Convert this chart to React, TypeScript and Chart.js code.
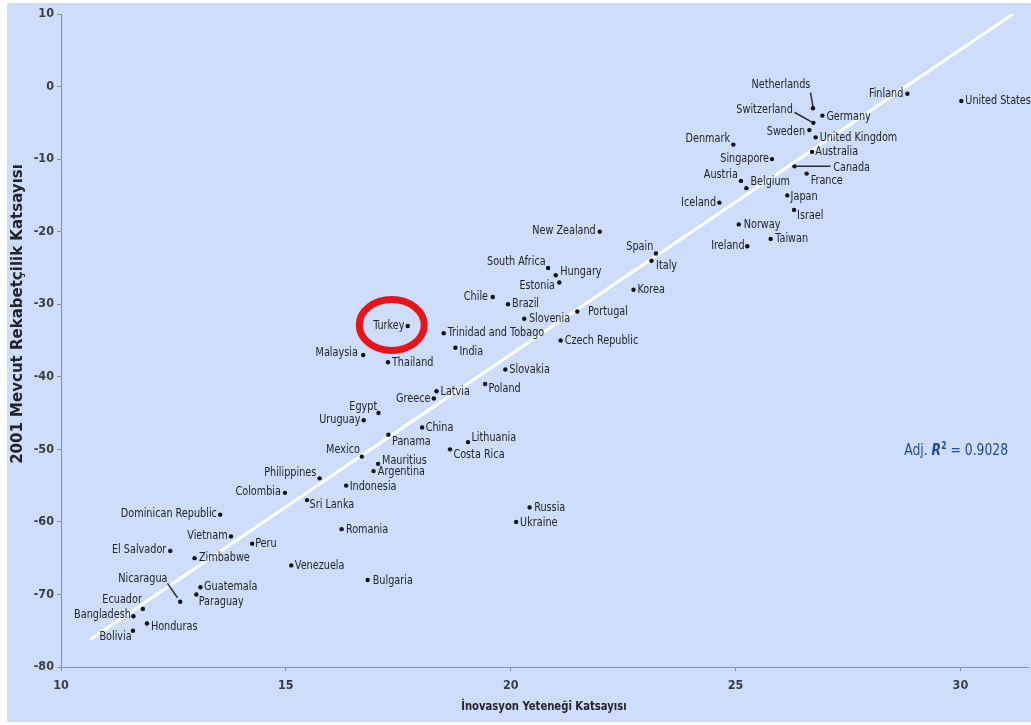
import React, { useEffect, useRef } from 'react';
import { Chart, registerables } from 'chart.js';

Chart.register(...registerables);

// ---------------- DATA ----------------
const COUNTRIES = [
  'Finland', 'United States', 'Netherlands', 'Germany', 'Switzerland', 'Sweden', 'United Kingdom',
  'Denmark', 'Australia', 'Singapore', 'Canada', 'France', 'Austria', 'Belgium', 'Japan', 'Iceland',
  'Israel', 'Norway', 'New Zealand', 'Taiwan', 'Ireland', 'Spain', 'Italy', 'South Africa', 'Hungary',
  'Estonia', 'Korea', 'Chile', 'Brazil', 'Portugal', 'Slovenia', 'Turkey', 'Trinidad and Tobago',
  'Czech Republic', 'India', 'Malaysia', 'Thailand', 'Slovakia', 'Poland', 'Latvia', 'Greece', 'Egypt',
  'Uruguay', 'China', 'Panama', 'Lithuania', 'Costa Rica', 'Mexico', 'Mauritius', 'Argentina',
  'Philippines', 'Indonesia', 'Colombia', 'Sri Lanka', 'Russia', 'Dominican Republic', 'Ukraine',
  'Romania', 'Vietnam', 'Peru', 'El Salvador', 'Zimbabwe', 'Venezuela', 'Bulgaria', 'Guatemala',
  'Paraguay', 'Nicaragua', 'Ecuador', 'Bangladesh', 'Honduras', 'Bolivia',
];

// İnovasyon Yeteneği Katsayısı (x)
const INNOVATION = [
  28.82, 30.02, 26.72, 26.93, 26.73, 26.64, 26.78,
  24.95, 26.70, 25.81, 26.31, 26.58, 25.12, 25.24, 26.15, 24.64,
  26.30, 25.07, 21.98, 25.78, 25.26, 23.23, 23.13, 20.83, 21.00,
  21.08, 22.73, 19.60, 19.94, 21.48, 20.30, 17.71, 18.51,
  21.11, 18.77, 16.72, 17.27, 19.88, 19.43, 18.35, 18.29, 17.06,
  16.73, 18.03, 17.28, 19.05, 18.65, 16.69, 17.05, 16.95,
  15.75, 16.34, 14.98, 15.47, 20.42, 13.54, 20.12,
  16.24, 13.78, 14.25, 12.43, 12.97, 15.12, 16.82, 13.10,
  13.01, 12.65, 11.82, 11.61, 11.91, 11.60,
];

// 2001 Mevcut Rekabetçilik Katsayısı (y)
const COMPETITIVENESS = [
  -1, -2, -3, -4, -5, -6, -7,
  -8, -9, -10, -11, -12, -13, -14, -15, -16,
  -17, -19, -20, -21, -22, -23, -24, -25, -26,
  -27, -28, -29, -30, -31, -32, -33, -34,
  -35, -36, -37, -38, -39, -41, -42, -43, -45,
  -46, -47, -48, -49, -50, -51, -52, -53,
  -54, -55, -56, -57, -58, -59, -60,
  -61, -62, -63, -64, -65, -66, -68, -69,
  -70, -71, -72, -73, -74, -75,
];

const FIT_X = [10.65, 31.17];
const FIT_Y = [-76.2, 10];
const R2_VALUE = '0.9028';
const R2_POS = [28.75, -50.05];

const X_TICKS = [10, 15, 20, 25, 30];
const Y_TICKS = [10, 0, -10, -20, -30, -40, -50, -60, -70, -80];
const X_TITLE = 'İnovasyon Yeteneği Katsayısı';
const Y_TITLE = '2001 Mevcut Rekabetçilik Katsayısı';
const HIGHLIGHT = 'Turkey';

// ---------------- LAYOUT / STYLE ----------------
// label placement: [side, dx, dy] in px relative to the dot
const LABEL_LAYOUT: Record<string, [string, number, number]> = {
  'Netherlands': ['c', -32, -24], 'Finland': ['l', -4, 0], 'United States': ['r', 4, 0],
  'Germany': ['r', 4, 1], 'Switzerland': ['l', -20.6, -12.6], 'Sweden': ['l', -4.3, 2],
  'United Kingdom': ['r', 4, 0], 'Denmark': ['l', -3.3, -6.3], 'Australia': ['r', 3.3, 0],
  'Singapore': ['l', -3, 0], 'Canada': ['r', 38.7, 1], 'France': ['r', 4, 7.4],
  'Austria': ['l', -3, -5.7], 'Belgium': ['r', 4, -6.6], 'Japan': ['r', 3.3, 1.6],
  'Iceland': ['l', -3.3, 0], 'Israel': ['r', 3, 5.7], 'Norway': ['r', 5, 0],
  'New Zealand': ['l', -4, -1], 'Taiwan': ['r', 4.7, 0], 'Ireland': ['l', -2.7, 0],
  'Spain': ['l', -2.7, -6.7], 'Italy': ['r', 4.6, 5.3], 'South Africa': ['l', -2.3, -6],
  'Hungary': ['r', 4.6, -3.4], 'Estonia': ['l', -4.3, 3.3], 'Korea': ['r', 4, 0],
  'Chile': ['l', -4.7, -0.6], 'Brazil': ['r', 4, 0], 'Portugal': ['r', 10.6, 0],
  'Slovenia': ['r', 4.7, 0], 'Turkey': ['l', -3.3, -0.7], 'Trinidad and Tobago': ['r', 4, 0],
  'Czech Republic': ['r', 4, 0.7], 'India': ['r', 4, 4.4], 'Malaysia': ['l', -5.4, -2],
  'Thailand': ['r', 4, 0], 'Slovakia': ['r', 4, 0], 'Poland': ['r', 3.4, 5],
  'Latvia': ['r', 4, 0], 'Greece': ['l', -3.3, 0.3], 'Egypt': ['l', -1.3, -6.7],
  'Uruguay': ['l', -3.3, -0.3], 'China': ['r', 3.6, 0], 'Panama': ['r', 3.7, 6.7],
  'Lithuania': ['r', 3.4, -4], 'Costa Rica': ['r', 3.4, 5], 'Mexico': ['l', -2, -6.7],
  'Mauritius': ['r', 4, -3.3], 'Argentina': ['r', 4.3, 0.7], 'Philippines': ['l', -3.3, -5.7],
  'Indonesia': ['r', 3.6, 1.6], 'Colombia': ['l', -4, -1.3], 'Sri Lanka': ['r', 2.6, 5],
  'Russia': ['r', 4.6, 0], 'Dominican Republic': ['l', -3.3, -0.7], 'Ukraine': ['r', 4, 0.7],
  'Romania': ['r', 4.3, 0.7], 'Vietnam': ['l', -3.4, -0.6], 'Peru': ['r', 3, 0],
  'El Salvador': ['l', -4, -0.7], 'Zimbabwe': ['r', 4.4, 0], 'Venezuela': ['r', 3.6, 0],
  'Bulgaria': ['r', 5, 1], 'Guatemala': ['r', 3.7, 0], 'Paraguay': ['r', 2.3, 7.4],
  'Nicaragua': ['l', -12.7, -23.3], 'Ecuador': ['l', -1, -9.3], 'Bangladesh': ['l', -2.6, -1],
  'Honduras': ['r', 4, 3.3], 'Bolivia': ['l', -1.3, 6.3],
};
// leader lines: [x1, y1, x2, y2] px relative to the dot
const LEADERS: Record<string, [number, number, number, number]> = {
  'Netherlands': [-2.4, -15.7, 0, -2],
  'Switzerland': [-19, -10.6, -1, -0.5],
  'Canada': [2, 0, 36, 0],
  'Nicaragua': [-12.7, -18.3, -2.7, -4],
};

const NARROW = "'Liberation Sans Narrow', 'DejaVu Sans Condensed', 'Arial Narrow', 'Roboto', sans-serif";
const SQUEEZE = 0.86;
const BG = '#cedefa';
const AXIS = '#8c929c';
const TEXT = '#222428';

function narrowText(ctx: CanvasRenderingContext2D, text: string, x: number, y: number) {
  ctx.save();
  ctx.translate(x, y);
  ctx.scale(SQUEEZE, 1);
  ctx.fillText(text, 0, 0);
  ctx.restore();
}

const backgroundPlugin = {
  id: 'bg',
  beforeDraw(chart: any) {
    const { ctx, width, height } = chart;
    ctx.save();
    ctx.fillStyle = '#ffffff';
    ctx.fillRect(0, 0, width, height);
    ctx.fillStyle = BG;
    ctx.fillRect(7, 3, width - 7, height - 6);
    ctx.restore();
  },
};

const annotationsPlugin = {
  id: 'annotations',
  afterDatasetsDraw(chart: any) {
    const { ctx, chartArea } = chart;
    const xs = chart.scales.x;
    const ys = chart.scales.y;
    ctx.save();
    ctx.font = `12.5px ${NARROW}`;
    ctx.fillStyle = TEXT;
    ctx.textBaseline = 'middle';
    COUNTRIES.forEach((name, i) => {
      const px = xs.getPixelForValue(INNOVATION[i]);
      const py = ys.getPixelForValue(COMPETITIVENESS[i]);
      const lay = LABEL_LAYOUT[name] || ['r', 4, 0];
      ctx.textAlign = lay[0] === 'r' ? 'left' : lay[0] === 'l' ? 'right' : 'center';
      narrowText(ctx, name, px + lay[1], py + lay[2]);
      const ld = LEADERS[name];
      if (ld) {
        ctx.strokeStyle = '#2a2c30';
        ctx.lineWidth = 1.5;
        ctx.beginPath();
        ctx.moveTo(px + ld[0], py + ld[1]);
        ctx.lineTo(px + ld[2], py + ld[3]);
        ctx.stroke();
      }
      if (name === HIGHLIGHT) {
        ctx.save();
        ctx.strokeStyle = '#e8141c';
        ctx.lineWidth = 7;
        ctx.beginPath();
        ctx.ellipse(px - 16, py - 1, 32.5, 25.5, 0, 0, Math.PI * 2);
        ctx.stroke();
        ctx.restore();
      }
    });

    // Adj. R² text
    const x0 = xs.getPixelForValue(R2_POS[0]);
    const y0 = ys.getPixelForValue(R2_POS[1]) + 5;
    ctx.save();
    ctx.translate(x0, y0);
    ctx.scale(SQUEEZE, 1);
    ctx.fillStyle = '#234a94';
    ctx.textAlign = 'left';
    ctx.textBaseline = 'alphabetic';
    let x = 0;
    ctx.font = `16px ${NARROW}`;
    ctx.fillText('Adj. ', x, 0);
    x += ctx.measureText('Adj. ').width;
    ctx.font = `italic bold 16px ${NARROW}`;
    ctx.fillText('R', x, 0);
    x += ctx.measureText('R').width;
    ctx.font = `bold 10px ${NARROW}`;
    ctx.fillText('2', x, -6);
    x += ctx.measureText('2').width;
    ctx.font = `16px ${NARROW}`;
    ctx.fillText(' = ' + R2_VALUE, x, 0);
    ctx.restore();

    // x axis title
    ctx.font = `bold 13px ${NARROW}`;
    ctx.fillStyle = TEXT;
    ctx.textAlign = 'center';
    ctx.textBaseline = 'middle';
    narrowText(ctx, X_TITLE, (chartArea.left + chartArea.right) / 2 - 1, 707);

    // y axis title
    ctx.save();
    ctx.translate(18, 314);
    ctx.rotate(-Math.PI / 2);
    ctx.font = "bold 15px 'DejaVu Sans', Verdana, sans-serif";
    ctx.fillStyle = TEXT;
    ctx.textAlign = 'center';
    ctx.textBaseline = 'middle';
    ctx.fillText(Y_TITLE, 0, 0);
    ctx.restore();

    ctx.restore();
  },
};

export default function App() {
  const ref = useRef<HTMLCanvasElement | null>(null);

  useEffect(() => {
    if (!ref.current) return;
    const points = COUNTRIES.map((_, i) => ({ x: INNOVATION[i], y: COMPETITIVENESS[i] }));
    const fit = FIT_X.map((v, i) => ({ x: v, y: FIT_Y[i] }));
    const tickFont = { family: NARROW, size: 12.5, weight: 'bold' as const };
    const chart = new Chart(ref.current, {
      type: 'scatter',
      data: {
        datasets: [
          {
            type: 'line',
            data: fit,
            borderColor: '#ffffff',
            borderWidth: 3,
            pointRadius: 0,
            fill: false,
            order: 2,
          } as any,
          {
            data: points,
            pointRadius: 2.2,
            pointHoverRadius: 2.2,
            backgroundColor: '#111111',
            borderWidth: 0,
            order: 1,
          },
        ],
      },
      options: {
        responsive: false,
        maintainAspectRatio: false,
        animation: false,
        devicePixelRatio: 1,
        layout: { padding: { top: 14, left: 0, right: 0, bottom: 0 } },
        plugins: { legend: { display: false }, tooltip: { enabled: false } },
        scales: {
          x: {
            type: 'linear',
            position: 'bottom',
            min: 10,
            max: 31.52,
            afterBuildTicks: (s: any) => { s.ticks = X_TICKS.map((v) => ({ value: v })); },
            afterFit: (s: any) => { s.height = 58; },
            grid: { display: true, drawOnChartArea: false, drawTicks: true, tickLength: 4, color: AXIS },
            border: { display: true, color: AXIS, width: 1 },
            ticks: { font: tickFont, color: '#3a3c40', padding: 7 },
            title: { display: false },
          },
          y: {
            type: 'linear',
            min: -80,
            max: 10,
            afterBuildTicks: (s: any) => { s.ticks = Y_TICKS.map((v) => ({ value: v })); },
            afterFit: (s: any) => { s.width = 61; },
            grid: { display: true, drawOnChartArea: false, drawTicks: true, tickLength: 4, color: AXIS },
            border: { display: true, color: AXIS, width: 1 },
            ticks: { font: tickFont, color: '#3a3c40', padding: 3 },
            title: { display: false },
          },
        },
      },
      plugins: [backgroundPlugin, annotationsPlugin],
    });
    return () => chart.destroy();
  }, []);

  return (
    <div style={{ position: 'absolute', left: 0, top: 0, width: 1031, height: 725 }}>
      <canvas ref={ref} width={1031} height={725} style={{ display: 'block', width: 1031, height: 725 }} />
    </div>
  );
}
